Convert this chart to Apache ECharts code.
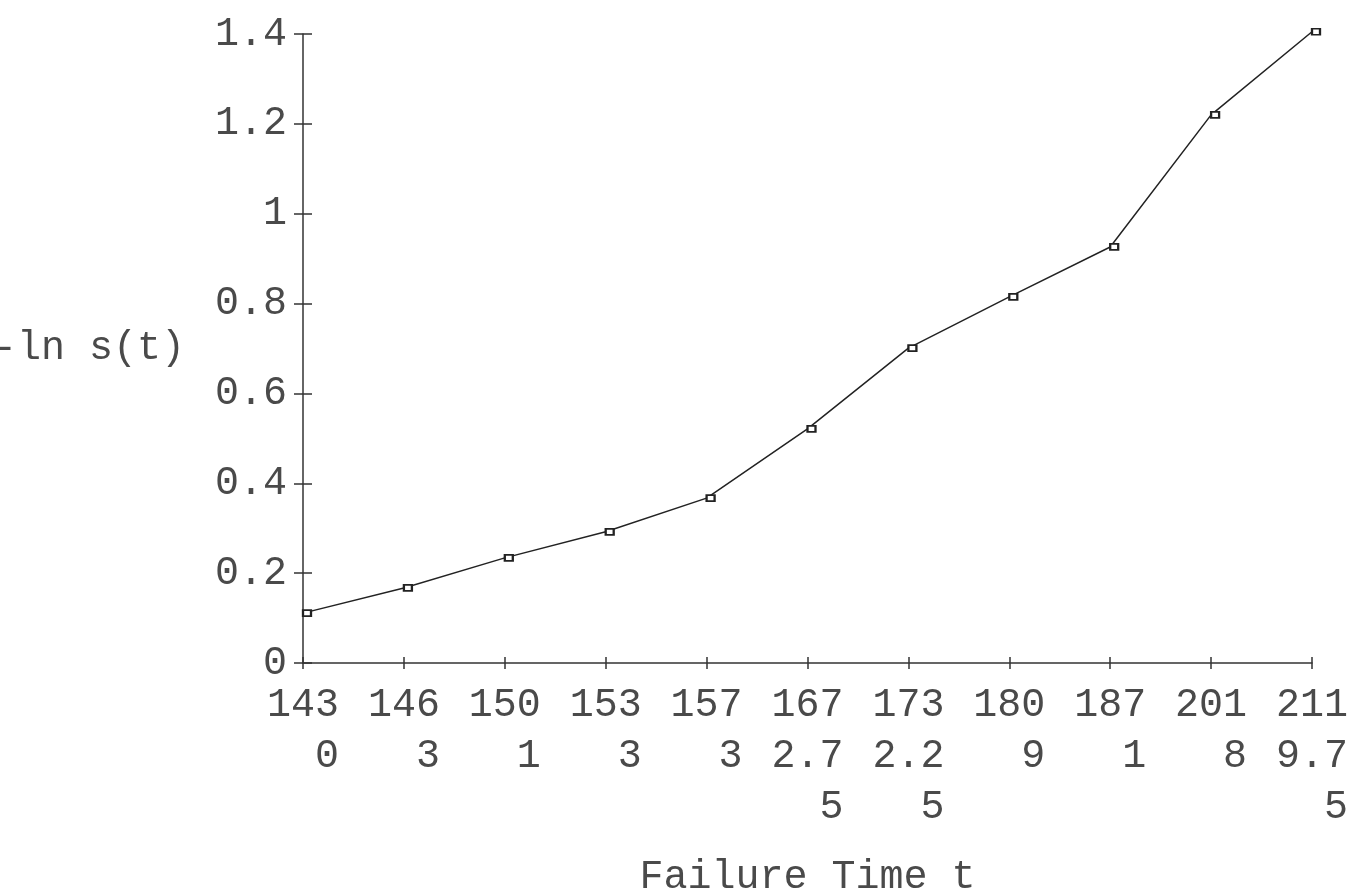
<!DOCTYPE html>
<html>
<head>
<meta charset="utf-8">
<script src="https://cdn.jsdelivr.net/npm/echarts@6/dist/echarts.min.js"></script>
<style>
  html, body { margin: 0; padding: 0; background: #fff; }
  #chart { width: 1360px; height: 893px; }
</style>
</head>
<body>
<div id="chart"></div>
<script>
// Failure times (categories) and -ln S(t) values
const failureTimes = ['1430', '1463', '1501', '1533', '1573', '1672.75', '1732.25', '1809', '1871', '2018', '2119.75'];
const negLnS = [0.111, 0.167, 0.234, 0.292, 0.367, 0.521, 0.701, 0.815, 0.926, 1.22, 1.405];
const yTicks = { min: 0, max: 1.4, interval: 0.2 };
const xTitle = 'Failure Time t';
const yTitle = '-ln s(t)';

const FONT = 'Liberation Mono';
const TXT = '#4a4a4a';
const AX = '#333';

function wrapLabel(v) {
  const parts = [];
  for (let i = 0; i < v.length; i += 3) parts.push(v.slice(i, i + 3));
  return parts.map(p => p.padStart(3, ' ')).join('\n');
}

const chart = echarts.init(document.getElementById('chart'));
chart.setOption({
  animation: false,
  backgroundColor: '#fff',
  grid: { left: 303, right: 48, top: 34, bottom: 230, containLabel: false, outerBoundsMode: 'none' },
  xAxis: [
    {
      type: 'category',
      data: failureTimes,
      boundaryGap: false,
      name: xTitle,
      nameLocation: 'middle',
      nameGap: 194,
      nameTextStyle: { fontFamily: FONT, fontSize: 40, color: TXT },
      axisLine: { show: true, lineStyle: { color: AX, width: 1.5 } },
      axisTick: { show: true, length: 6, lineStyle: { color: AX, width: 1.5 } },
      axisLabel: {
        interval: 0,
        margin: 17,
        fontFamily: FONT,
        fontSize: 40,
        lineHeight: 51,
        color: TXT,
        align: 'center',
        formatter: wrapLabel
      },
      splitLine: { show: false }
    },
    {
      type: 'category',
      data: failureTimes,
      boundaryGap: false,
      position: 'bottom',
      axisLine: { show: false },
      axisTick: { show: true, inside: true, length: 6, lineStyle: { color: AX, width: 1.5 } },
      axisLabel: { show: false },
      splitLine: { show: false }
    }
  ],
  yAxis: [
    {
      type: 'value',
      min: yTicks.min,
      max: yTicks.max,
      interval: yTicks.interval,
      name: yTitle,
      nameLocation: 'middle',
      nameRotate: 0,
      nameGap: 118,
      nameTextStyle: { fontFamily: FONT, fontSize: 40, color: TXT, padding: [18, 0, 0, 0] },
      axisLine: { show: true, lineStyle: { color: AX, width: 1.5 } },
      axisTick: { show: true, length: 9, lineStyle: { color: AX, width: 1.5 } },
      axisLabel: { margin: 16, fontFamily: FONT, fontSize: 40, color: TXT },
      splitLine: { show: false }
    },
    {
      type: 'value',
      min: yTicks.min,
      max: yTicks.max,
      interval: yTicks.interval,
      position: 'left',
      axisLine: { show: false },
      axisTick: { show: true, inside: true, length: 9, lineStyle: { color: AX, width: 1.5 } },
      axisLabel: { show: false },
      splitLine: { show: false }
    }
  ],
  series: [
    {
      type: 'line',
      data: negLnS,
      xAxisIndex: 0,
      yAxisIndex: 0,
      clip: false,
      symbol: 'emptyRect',
      symbolSize: [8, 6],
      symbolOffset: [4, 0],
      showSymbol: true,
      itemStyle: { color: '#222', borderWidth: 1.2 },
      lineStyle: { color: '#222', width: 1.5 }
    }
  ]
});
</script>
</body>
</html>
